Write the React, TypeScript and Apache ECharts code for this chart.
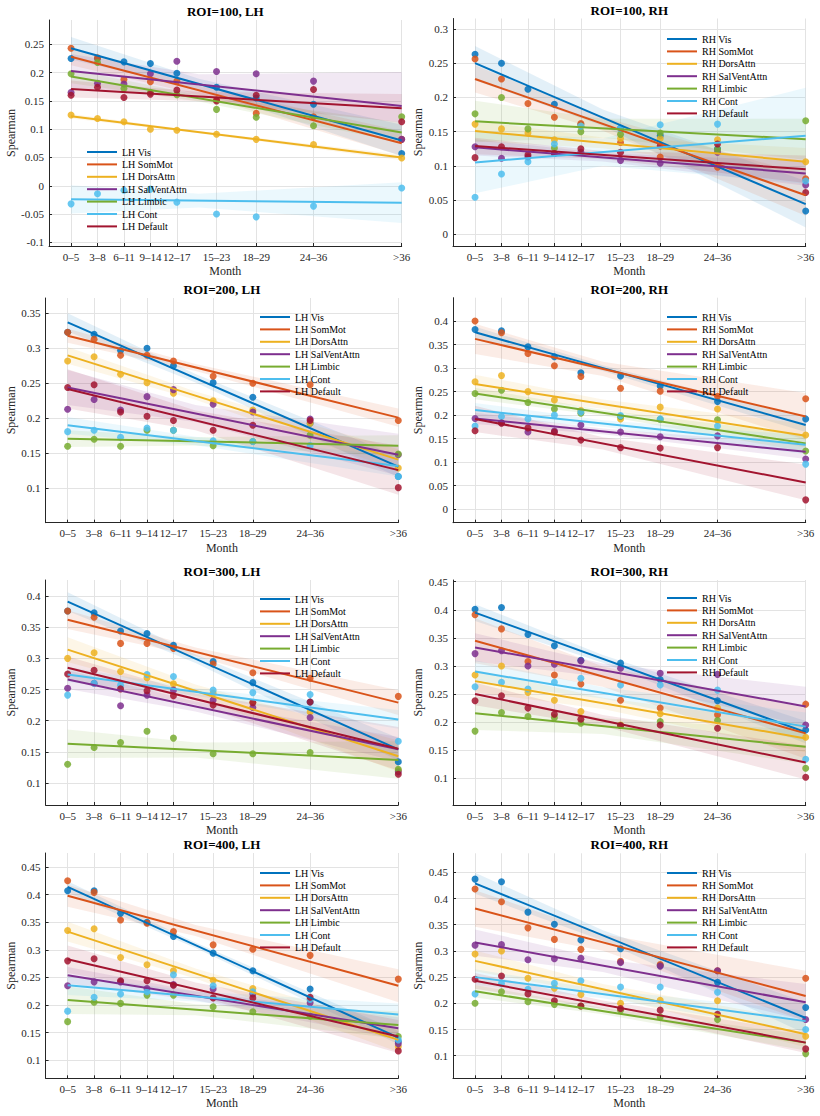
import React, { useEffect, useRef } from 'react';
import * as echarts from 'echarts';

// Age bins on the x axis and the numeric position (bin midpoint, months) of each
const MONTHS = ['0–5', '3–8', '6–11', '9–14', '12–17', '15–23', '18–29', '24–36', '>36'];
const MONTH_X = [2.5, 5.5, 8.5, 11.5, 14.5, 19, 23.5, 30, 40];
// x positions where the confidence band edges are sampled (start, centre, end)
const BAND_X = [2.5, 17, 40];

const NETWORKS = ['Vis', 'SomMot', 'DorsAttn', 'SalVentAttn', 'Limbic', 'Cont', 'Default'];
const NET_COLORS = ['#0072BD', '#D95319', '#EDB120', '#7E2F8E', '#77AC30', '#4DBEEE', '#A2142F'];

// ---- ROI=100, LH ----
const LH100_POINTS = [
  [0.225, 0.225, 0.219, 0.216, 0.199, 0.174, 0.155, 0.144, 0.057],
  [0.243, 0.226, 0.188, 0.184, 0.185, 0.152, 0.128, 0.122, 0.082],
  [0.125, 0.119, 0.113, 0.100, 0.098, 0.091, 0.082, 0.073, 0.049],
  [0.165, 0.181, 0.180, 0.198, 0.220, 0.202, 0.198, 0.185, 0.082],
  [0.198, 0.218, 0.172, 0.165, 0.161, 0.135, 0.121, 0.106, 0.122],
  [-0.032, -0.014, -0.008, -0.006, -0.029, -0.050, -0.055, -0.036, -0.004],
  [0.160, 0.174, 0.156, 0.162, 0.169, 0.150, 0.160, 0.170, 0.113],
];
const LH100_FIT = [[0.243, 0.080], [0.228, 0.075], [0.123, 0.050], [0.203, 0.141], [0.193, 0.094], [-0.024, -0.030], [0.171, 0.137]];
const LH100_BAND = [[0.02, 0.009, 0.028], [0.015, 0.008, 0.022], [0.004, 0.002, 0.005], [0.03, 0.018, 0.06], [0.012, 0.006, 0.018], [0.025, 0.012, 0.036], [0.015, 0.008, 0.025]];
const LH100_TICKS = [-0.1, -0.05, 0, 0.05, 0.1, 0.15, 0.2, 0.25];

// ---- ROI=100, RH ----
const RH100_POINTS = [
  [0.263, 0.250, 0.212, 0.190, 0.160, 0.155, 0.144, 0.125, 0.034],
  [0.256, 0.227, 0.191, 0.171, 0.162, 0.134, 0.113, 0.098, 0.081],
  [0.161, 0.154, 0.148, 0.138, 0.158, 0.140, 0.140, 0.138, 0.106],
  [0.128, 0.111, 0.113, 0.118, 0.120, 0.108, 0.104, 0.120, 0.072],
  [0.176, 0.200, 0.154, 0.126, 0.150, 0.146, 0.148, 0.124, 0.166],
  [0.054, 0.088, 0.106, 0.132, 0.158, 0.155, 0.160, 0.161, 0.078],
  [0.112, 0.128, 0.116, 0.118, 0.125, 0.120, 0.129, 0.132, 0.061],
];
const RH100_FIT = [[0.250, 0.044], [0.227, 0.057], [0.151, 0.106], [0.127, 0.089], [0.165, 0.139], [0.105, 0.144], [0.129, 0.095]];
const RH100_BAND = [[0.025, 0.012, 0.034], [0.02, 0.01, 0.03], [0.015, 0.008, 0.02], [0.012, 0.006, 0.018], [0.03, 0.014, 0.03], [0.045, 0.02, 0.07], [0.012, 0.006, 0.02]];
const RH100_TICKS = [0, 0.05, 0.1, 0.15, 0.2, 0.25, 0.3];

// ---- ROI=200, LH ----
const LH200_POINTS = [
  [0.323, 0.320, 0.297, 0.300, 0.275, 0.251, 0.230, 0.193, 0.117],
  [0.323, 0.313, 0.290, 0.290, 0.282, 0.260, 0.250, 0.248, 0.197],
  [0.282, 0.288, 0.263, 0.251, 0.236, 0.225, 0.212, 0.193, 0.129],
  [0.213, 0.227, 0.212, 0.231, 0.241, 0.220, 0.209, 0.199, 0.148],
  [0.160, 0.170, 0.160, 0.183, 0.183, 0.161, 0.167, 0.176, 0.149],
  [0.181, 0.183, 0.173, 0.186, 0.183, 0.168, 0.167, 0.161, 0.117],
  [0.244, 0.248, 0.209, 0.203, 0.197, 0.183, 0.190, 0.197, 0.101],
];
const LH200_FIT = [[0.337, 0.131], [0.318, 0.201], [0.290, 0.141], [0.244, 0.148], [0.171, 0.161], [0.190, 0.132], [0.242, 0.126]];
const LH200_BAND = [[0.013, 0.006, 0.015], [0.01, 0.005, 0.013], [0.012, 0.006, 0.015], [0.025, 0.012, 0.03], [0.012, 0.006, 0.015], [0.012, 0.006, 0.015], [0.028, 0.014, 0.035]];
const LH200_TICKS = [0.1, 0.15, 0.2, 0.25, 0.3, 0.35];

// ---- ROI=200, RH ----
const RH200_POINTS = [
  [0.382, 0.379, 0.345, 0.324, 0.290, 0.283, 0.262, 0.229, 0.192],
  [0.400, 0.375, 0.331, 0.305, 0.282, 0.257, 0.251, 0.240, 0.235],
  [0.271, 0.284, 0.250, 0.232, 0.210, 0.192, 0.217, 0.213, 0.158],
  [0.193, 0.184, 0.164, 0.166, 0.179, 0.164, 0.154, 0.156, 0.107],
  [0.246, 0.253, 0.227, 0.213, 0.204, 0.197, 0.191, 0.190, 0.124],
  [0.177, 0.197, 0.192, 0.200, 0.207, 0.199, 0.192, 0.177, 0.096],
  [0.167, 0.183, 0.173, 0.164, 0.147, 0.131, 0.130, 0.131, 0.020],
];
const RH200_FIT = [[0.376, 0.179], [0.362, 0.197], [0.266, 0.156], [0.193, 0.122], [0.246, 0.140], [0.211, 0.137], [0.192, 0.057]];
const RH200_BAND = [[0.012, 0.006, 0.015], [0.032, 0.015, 0.05], [0.02, 0.01, 0.025], [0.012, 0.006, 0.015], [0.012, 0.006, 0.018], [0.015, 0.007, 0.02], [0.028, 0.013, 0.038]];
const RH200_TICKS = [0, 0.05, 0.1, 0.15, 0.2, 0.25, 0.3, 0.35, 0.4];

// ---- ROI=300, LH ----
const LH300_POINTS = [
  [0.376, 0.373, 0.344, 0.340, 0.321, 0.295, 0.261, 0.230, 0.134],
  [0.376, 0.366, 0.324, 0.324, 0.316, 0.291, 0.277, 0.268, 0.239],
  [0.300, 0.309, 0.279, 0.269, 0.259, 0.244, 0.229, 0.214, 0.120],
  [0.252, 0.260, 0.224, 0.241, 0.249, 0.233, 0.221, 0.205, 0.118],
  [0.130, 0.157, 0.165, 0.183, 0.172, 0.147, 0.147, 0.149, 0.122],
  [0.241, 0.260, 0.257, 0.274, 0.271, 0.249, 0.245, 0.242, 0.167],
  [0.275, 0.281, 0.251, 0.248, 0.240, 0.225, 0.229, 0.230, 0.114],
];
const LH300_FIT = [[0.391, 0.154], [0.362, 0.229], [0.314, 0.143], [0.266, 0.154], [0.163, 0.137], [0.274, 0.202], [0.285, 0.155]];
const LH300_BAND = [[0.015, 0.007, 0.018], [0.015, 0.007, 0.02], [0.02, 0.01, 0.025], [0.015, 0.008, 0.02], [0.023, 0.012, 0.03], [0.012, 0.006, 0.015], [0.018, 0.009, 0.035]];
const LH300_TICKS = [0.1, 0.15, 0.2, 0.25, 0.3, 0.35, 0.4];

// ---- ROI=300, RH ----
const RH300_POINTS = [
  [0.401, 0.404, 0.356, 0.336, 0.310, 0.305, 0.276, 0.238, 0.186],
  [0.391, 0.366, 0.308, 0.284, 0.268, 0.239, 0.225, 0.213, 0.232],
  [0.284, 0.300, 0.253, 0.239, 0.219, 0.195, 0.215, 0.225, 0.173],
  [0.322, 0.327, 0.300, 0.303, 0.309, 0.296, 0.287, 0.285, 0.195],
  [0.184, 0.217, 0.210, 0.208, 0.198, 0.194, 0.201, 0.203, 0.118],
  [0.263, 0.271, 0.259, 0.271, 0.278, 0.266, 0.266, 0.257, 0.134],
  [0.238, 0.247, 0.225, 0.214, 0.205, 0.194, 0.195, 0.189, 0.102],
];
const RH300_FIT = [[0.395, 0.182], [0.345, 0.180], [0.273, 0.171], [0.333, 0.228], [0.216, 0.156], [0.290, 0.192], [0.250, 0.128]];
const RH300_BAND = [[0.015, 0.007, 0.02], [0.04, 0.018, 0.045], [0.02, 0.01, 0.025], [0.025, 0.012, 0.035], [0.03, 0.014, 0.03], [0.02, 0.01, 0.025], [0.02, 0.01, 0.03]];
const RH300_TICKS = [0.1, 0.15, 0.2, 0.25, 0.3, 0.35, 0.4, 0.45];

// ---- ROI=400, LH ----
const LH400_POINTS = [
  [0.407, 0.407, 0.366, 0.350, 0.324, 0.294, 0.262, 0.229, 0.134],
  [0.425, 0.404, 0.354, 0.348, 0.333, 0.309, 0.301, 0.290, 0.247],
  [0.335, 0.338, 0.286, 0.273, 0.262, 0.245, 0.230, 0.210, 0.125],
  [0.235, 0.242, 0.242, 0.230, 0.237, 0.229, 0.220, 0.204, 0.130],
  [0.170, 0.205, 0.203, 0.218, 0.218, 0.197, 0.188, 0.180, 0.143],
  [0.189, 0.214, 0.220, 0.224, 0.255, 0.235, 0.224, 0.210, 0.137],
  [0.280, 0.284, 0.244, 0.244, 0.236, 0.213, 0.213, 0.214, 0.117],
];
const LH400_FIT = [[0.414, 0.141], [0.398, 0.235], [0.333, 0.137], [0.254, 0.158], [0.209, 0.164], [0.236, 0.183], [0.283, 0.143]];
const LH400_BAND = [[0.01, 0.005, 0.012], [0.02, 0.01, 0.03], [0.018, 0.009, 0.022], [0.015, 0.008, 0.02], [0.025, 0.01, 0.025], [0.018, 0.009, 0.02], [0.025, 0.012, 0.03]];
const LH400_TICKS = [0.1, 0.15, 0.2, 0.25, 0.3, 0.35, 0.4, 0.45];

// ---- ROI=400, RH ----
const RH400_POINTS = [
  [0.437, 0.432, 0.374, 0.351, 0.321, 0.304, 0.272, 0.240, 0.192],
  [0.418, 0.394, 0.344, 0.322, 0.303, 0.280, 0.274, 0.262, 0.248],
  [0.294, 0.300, 0.248, 0.229, 0.217, 0.200, 0.206, 0.205, 0.137],
  [0.311, 0.312, 0.283, 0.285, 0.286, 0.278, 0.271, 0.262, 0.169],
  [0.200, 0.222, 0.203, 0.198, 0.195, 0.187, 0.174, 0.169, 0.104],
  [0.218, 0.238, 0.227, 0.238, 0.243, 0.231, 0.231, 0.221, 0.150],
  [0.246, 0.252, 0.218, 0.205, 0.195, 0.190, 0.187, 0.179, 0.113],
];
const RH400_FIT = [[0.429, 0.172], [0.381, 0.214], [0.281, 0.141], [0.316, 0.202], [0.223, 0.125], [0.250, 0.166], [0.243, 0.125]];
const RH400_BAND = [[0.02, 0.01, 0.03], [0.035, 0.016, 0.048], [0.02, 0.01, 0.025], [0.025, 0.012, 0.035], [0.012, 0.006, 0.015], [0.015, 0.008, 0.02], [0.015, 0.008, 0.02]];
const RH400_TICKS = [0.1, 0.15, 0.2, 0.25, 0.3, 0.35, 0.4, 0.45];

const FONT = "'Liberation Serif', 'Times New Roman', serif";
const INK = '#262626';
const GRID_LINE = '#e3e3e3';

function rgba(hex: string, a: number) {
  const n = parseInt(hex.slice(1), 16);
  return `rgba(${(n >> 16) & 255},${(n >> 8) & 255},${n & 255},${a})`;
}

type Panel = {
  title: string;
  hemi: string;
  points: number[][];
  fit: number[][];
  band: number[][];
  ticks: number[];
  yMin: number;
  yMax: number;
  left: number;
  top: number;
  height: number;
  legendLeft: number;
  legendTop: number;
  nameGap: number;
};

const PLOT_W = 352.7;
const LH_LEFT = 45.6;
const RH_LEFT = 453;

const PANELS: Panel[] = [
  { title: 'ROI=100, LH', hemi: 'LH', points: LH100_POINTS, fit: LH100_FIT, band: LH100_BAND, ticks: LH100_TICKS, yMin: -0.1065, yMax: 0.293, left: 49, top: 20, height: 226, legendLeft: 87, legendTop: 147, nameGap: 31 },
  { title: 'ROI=100, RH', hemi: 'RH', points: RH100_POINTS, fit: RH100_FIT, band: RH100_BAND, ticks: RH100_TICKS, yMin: -0.0171, yMax: 0.3153, left: RH_LEFT, top: 18.5, height: 227.5, legendLeft: 667, legendTop: 34, nameGap: 29 },
  { title: 'ROI=200, LH', hemi: 'LH', points: LH200_POINTS, fit: LH200_FIT, band: LH200_BAND, ticks: LH200_TICKS, yMin: 0.0509, yMax: 0.3719, left: LH_LEFT, top: 298, height: 224.7, legendLeft: 260, legendTop: 312, nameGap: 27 },
  { title: 'ROI=200, RH', hemi: 'RH', points: RH200_POINTS, fit: RH200_FIT, band: RH200_BAND, ticks: RH200_TICKS, yMin: -0.0285, yMax: 0.4495, left: RH_LEFT, top: 297.7, height: 225, legendLeft: 667, legendTop: 312, nameGap: 29 },
  { title: 'ROI=300, LH', hemi: 'LH', points: LH300_POINTS, fit: LH300_FIT, band: LH300_BAND, ticks: LH300_TICKS, yMin: 0.0647, yMax: 0.4257, left: LH_LEFT, top: 580, height: 225, legendLeft: 260, legendTop: 594, nameGap: 27 },
  { title: 'ROI=300, RH', hemi: 'RH', points: RH300_POINTS, fit: RH300_FIT, band: RH300_BAND, ticks: RH300_TICKS, yMin: 0.0525, yMax: 0.453, left: RH_LEFT, top: 580, height: 225, legendLeft: 667, legendTop: 593, nameGap: 29 },
  { title: 'ROI=400, LH', hemi: 'LH', points: LH400_POINTS, fit: LH400_FIT, band: LH400_BAND, ticks: LH400_TICKS, yMin: 0.0674, yMax: 0.4753, left: LH_LEFT, top: 853, height: 225.3, legendLeft: 260, legendTop: 868, nameGap: 27 },
  { title: 'ROI=400, RH', hemi: 'RH', points: RH400_POINTS, fit: RH400_FIT, band: RH400_BAND, ticks: RH400_TICKS, yMin: 0.0569, yMax: 0.4863, left: RH_LEFT, top: 853.3, height: 225, legendLeft: 667, legendTop: 868, nameGap: 29 },
];

function monthLabel(v: number) {
  const i = MONTH_X.findIndex((x) => Math.abs(x - v) < 1e-6);
  return i >= 0 ? MONTHS[i] : '';
}

function tickLabel(v: number) {
  return String(Number(Number(v).toFixed(3)));
}

function buildOption() {
  const title: any[] = [];
  const grid: any[] = [];
  const xAxis: any[] = [];
  const yAxis: any[] = [];
  const legend: any[] = [];
  const series: any[] = [];

  PANELS.forEach((p, i) => {
    grid.push({ left: p.left, top: p.top, width: PLOT_W, height: p.height, outerBoundsMode: 'none' });
    title.push({
      text: p.title,
      left: p.left + PLOT_W / 2,
      top: p.top - 15,
      textAlign: 'center',
      padding: 0,
      textStyle: { fontFamily: FONT, fontSize: 13, fontWeight: 'bold', color: '#000' },
    });
    xAxis.push({
      type: 'value',
      gridIndex: i,
      min: 0,
      max: 40,
      name: 'Month',
      nameLocation: 'middle',
      nameGap: 19,
      nameTextStyle: { fontFamily: FONT, fontSize: 12, color: INK },
      axisLine: { show: true, onZero: false, lineStyle: { color: INK, width: 1 } },
      axisTick: { show: true, inside: true, length: 3, customValues: MONTH_X, lineStyle: { color: INK } },
      axisLabel: { customValues: MONTH_X, formatter: monthLabel, margin: 5, fontFamily: FONT, fontSize: 11, color: INK, hideOverlap: false },
      splitLine: { show: true, lineStyle: { color: GRID_LINE, width: 1 } },
    });
    yAxis.push({
      type: 'value',
      gridIndex: i,
      min: p.yMin,
      max: p.yMax,
      name: 'Spearman',
      nameLocation: 'middle',
      nameGap: p.nameGap,
      nameTextStyle: { fontFamily: FONT, fontSize: 12, color: INK },
      axisLine: { show: true, onZero: false, lineStyle: { color: INK, width: 1 } },
      axisTick: { show: true, inside: true, length: 3, customValues: p.ticks, lineStyle: { color: INK } },
      axisLabel: { customValues: p.ticks, formatter: tickLabel, margin: 5, fontFamily: FONT, fontSize: 11, color: INK },
      splitLine: { show: true, lineStyle: { color: GRID_LINE, width: 1 } },
    });
    legend.push({
      left: p.legendLeft,
      top: p.legendTop,
      orient: 'vertical',
      padding: 0,
      icon: 'rect',
      itemWidth: 30,
      itemHeight: 2,
      itemGap: 2.4,
      selectedMode: false,
      data: NETWORKS.map((n) => `${p.hemi} ${n}`),
      textStyle: { fontFamily: FONT, fontSize: 10, color: '#000' },
    });

    NETWORKS.forEach((net, k) => {
      const color = NET_COLORS[k];
      const [s, e] = p.fit[k];
      const widths = p.band[k];
      // confidence band, built from the fitted line and the half-widths at start / centre / end
      series.push({
        type: 'custom',
        xAxisIndex: i,
        yAxisIndex: i,
        silent: true,
        z: 1,
        data: [[MONTH_X[0], s]],
        renderItem: (_params: any, api: any) => {
          const mid = s + ((e - s) * (BAND_X[1] - BAND_X[0])) / (BAND_X[2] - BAND_X[0]);
          const centres = [s, mid, e];
          const upper = BAND_X.map((x, j) => api.coord([x, centres[j] + widths[j]]));
          const lower = BAND_X.map((x, j) => api.coord([x, centres[j] - widths[j]])).reverse();
          return {
            type: 'polygon',
            shape: { points: upper.concat(lower) },
            style: { fill: rgba(color, 0.11), stroke: 'none' },
          };
        },
      });
      series.push({
        type: 'scatter',
        name: `${p.hemi} ${net} data`,
        xAxisIndex: i,
        yAxisIndex: i,
        silent: true,
        z: 2,
        symbol: 'circle',
        symbolSize: 7,
        itemStyle: { color, opacity: 0.85 },
        data: p.points[k].map((v, j) => [MONTH_X[j], v]),
      });
      series.push({
        type: 'line',
        name: `${p.hemi} ${net}`,
        xAxisIndex: i,
        yAxisIndex: i,
        silent: true,
        z: 3,
        symbol: 'none',
        showSymbol: false,
        lineStyle: { color, width: 2 },
        itemStyle: { color },
        data: [[MONTH_X[0], s], [MONTH_X[MONTH_X.length - 1], e]],
      });
    });
  });

  return { animation: false, backgroundColor: '#ffffff', title, grid, xAxis, yAxis, legend, series };
}

export default function App() {
  const ref = useRef<HTMLDivElement>(null);

  useEffect(() => {
    document.body.style.margin = '0';
    if (!ref.current) return;
    const chart = echarts.init(ref.current, null, { renderer: 'svg' });
    chart.setOption(buildOption());
    return () => chart.dispose();
  }, []);

  return <div ref={ref} style={{ width: 820, height: 1116, background: '#fff' }} />;
}
